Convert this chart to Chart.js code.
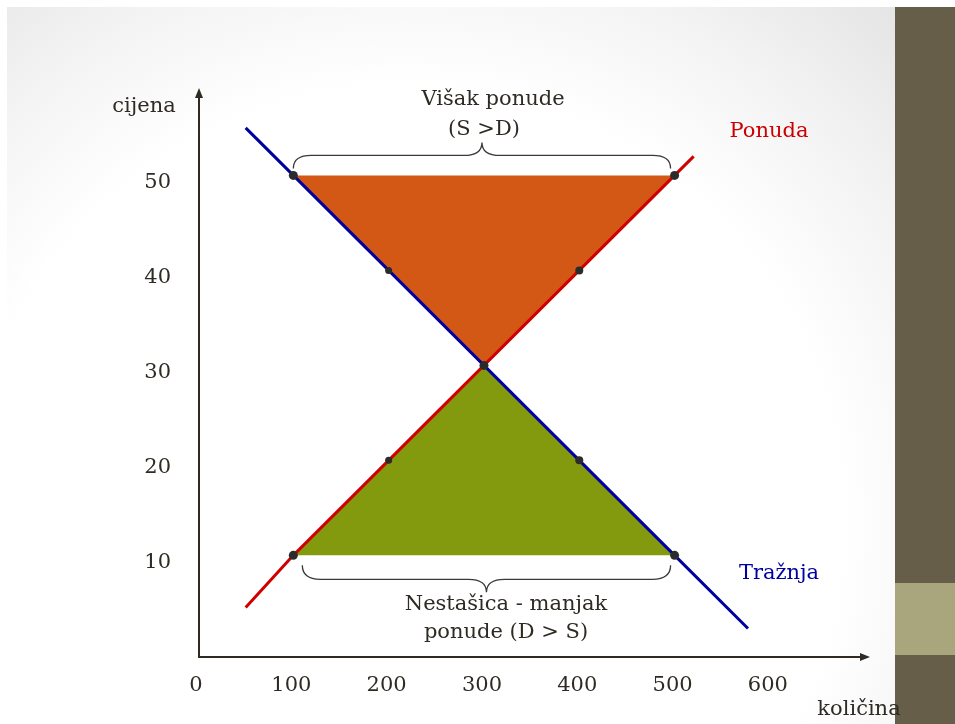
<!DOCTYPE html>
<html>
<head>
<meta charset="utf-8">
<script src="https://cdn.jsdelivr.net/npm/chart.js@4/dist/chart.umd.min.js"></script>
<style>
  html, body { margin: 0; padding: 0; background: #ffffff; width: 955px; height: 724px; overflow: hidden; }
  #slide { position: absolute; left: 7px; top: 7px; width: 948px; height: 717px;
    background: radial-gradient(circle farthest-corner at 42% 72%, #ffffff 58%, #f3f3f3 76%, #e0e0e0 100%); }
  #bar { position: absolute; left: 895px; top: 7px; width: 60px; height: 717px; background: #665e48; }
  #barLight { position: absolute; left: 895px; top: 583px; width: 60px; height: 72px; background: #a9a67e; }
  #wrap { position: absolute; left: 0; top: 0; width: 955px; height: 724px; }
</style>
</head>
<body>
<div id="slide"></div>
<div id="bar"></div>
<div id="barLight"></div>
<div id="wrap"><canvas id="c" width="955" height="724"></canvas></div>
<script>
// Demand (Tražnja) and supply (Ponuda) curves: quantity vs. price
const demandQty   = [50, 100, 200, 300, 400, 500, 577];
const demandPrice = [55, 50, 40, 30, 20, 10, 2.3];
const supplyQty   = [50, 100, 200, 300, 400, 500, 520];
const supplyPrice = [4.5, 10, 20, 30, 40, 50, 52];

// Marked points on both curves
const markerQty   = [100, 200, 300, 400, 500, 100, 200, 400, 500];
const markerPrice = [50, 40, 30, 20, 10, 10, 20, 40, 50];
const markerSize  = [4.5, 3.5, 4.5, 4, 4.5, 4.5, 3.5, 4, 4.5];

// Surplus (price 50) and shortage (price 10) triangles
const surplusQty    = [100, 500, 300, 100];
const surplusPrice  = [50, 50, 30, 50];
const shortageQty   = [100, 500, 300, 100];
const shortagePrice = [10, 10, 30, 10];

const xTicks = [0, 100, 200, 300, 400, 500, 600];
const yTicks = [10, 20, 30, 40, 50];

const pts = (xs, ys) => xs.map((x, i) => ({ x: x, y: ys[i] }));

const FONT = '"DejaVu Serif", serif';
const INK = '#2f2b24';

const decorPlugin = {
  id: 'decor',
  afterDraw(chart) {
    const ctx = chart.ctx;
    const a = chart.chartArea;
    const xs = chart.scales.x, ys = chart.scales.y;
    const px = v => xs.getPixelForValue(v);
    const py = v => ys.getPixelForValue(v);
    ctx.save();

    // axes with arrowheads
    ctx.strokeStyle = INK;
    ctx.fillStyle = INK;
    ctx.lineWidth = 2;
    ctx.beginPath();
    ctx.moveTo(a.left + 1, a.bottom);
    ctx.lineTo(a.left + 1, a.top + 6);
    ctx.moveTo(a.left, a.bottom);
    ctx.lineTo(a.right - 6, a.bottom);
    ctx.stroke();
    ctx.beginPath();
    ctx.moveTo(a.left + 1, a.top);
    ctx.lineTo(a.left - 3, a.top + 10);
    ctx.lineTo(a.left + 5, a.top + 10);
    ctx.closePath();
    ctx.fill();
    ctx.beginPath();
    ctx.moveTo(a.right, a.bottom);
    ctx.lineTo(a.right - 10, a.bottom - 4);
    ctx.lineTo(a.right - 10, a.bottom + 4);
    ctx.closePath();
    ctx.fill();

    // tick labels
    ctx.font = '21px ' + FONT;
    ctx.textAlign = 'center';
    ctx.textBaseline = 'middle';
    xTicks.forEach(v => ctx.fillText(String(v), px(v) - 2, a.bottom + 29));
    ctx.textAlign = 'right';
    yTicks.forEach(v => ctx.fillText(String(v), 171, py(v) + 7));

    // curly braces
    ctx.lineWidth = 1.3;
    ctx.strokeStyle = '#3a3a3a';
    const brace = (x1, x2, yEnd, yLine, yTip) => {
      const xm = (x1 + x2) / 2, r = 18;
      ctx.beginPath();
      ctx.moveTo(x1, yEnd);
      ctx.quadraticCurveTo(x1, yLine, x1 + r, yLine);
      ctx.lineTo(xm - r, yLine);
      ctx.quadraticCurveTo(xm, yLine, xm, yTip);
      ctx.quadraticCurveTo(xm, yLine, xm + r, yLine);
      ctx.lineTo(x2 - r, yLine);
      ctx.quadraticCurveTo(x2, yLine, x2, yEnd);
      ctx.stroke();
    };
    brace(px(100), px(500) - 4, py(50) - 7, py(50) - 20, py(50) - 33);
    brace(px(100) + 9, px(500) - 4, py(10) + 10, py(10) + 24, py(10) + 37);

    // labels
    ctx.textAlign = 'center';
    ctx.fillStyle = INK;
    ctx.font = '21px ' + FONT;
    ctx.fillText('cijena', 144, 107);
    ctx.fillText('Višak ponude', 493, 100);
    ctx.fillText('(S >D)', 484, 130);
    ctx.fillText('Nestašica - manjak', 506, 605);
    ctx.fillText('ponude (D > S)', 506, 633);
    ctx.fillText('količina', 859, 710);
    ctx.fillStyle = '#cc0000';
    ctx.fillText('Ponuda', 769, 132);
    ctx.fillStyle = '#0000a0';
    ctx.fillText('Tražnja', 779, 574);
    ctx.restore();
  }
};

new Chart(document.getElementById('c'), {
  type: 'scatter',
  data: {
    datasets: [
      { label: 'Višak ponude', data: pts(surplusQty, surplusPrice), showLine: true,
        borderWidth: 0, pointRadius: 0, backgroundColor: '#d35815', fill: 'shape', order: 4 },
      { label: 'Nestašica', data: pts(shortageQty, shortagePrice), showLine: true,
        borderWidth: 0, pointRadius: 0, backgroundColor: '#849a0e', fill: 'shape', order: 4 },
      { label: 'Tražnja', data: pts(demandQty, demandPrice), showLine: true,
        borderColor: '#0000a0', borderWidth: 3, pointRadius: 0, fill: false, order: 3 },
      { label: 'Ponuda', data: pts(supplyQty, supplyPrice), showLine: true,
        borderColor: '#d00000', borderWidth: 3, pointRadius: 0, fill: false, order: 2 },
      { label: 'točke', data: pts(markerQty, markerPrice), showLine: false,
        pointRadius: markerSize, pointBackgroundColor: '#2b2b2b', pointBorderWidth: 0, order: 1 }
    ]
  },
  options: {
    responsive: false,
    animation: false,
    events: [],
    layout: { padding: { left: 198, right: 85, top: 88, bottom: 67 } },
    plugins: { legend: { display: false }, tooltip: { enabled: false } },
    scales: {
      x: { type: 'linear', min: 0, max: 705, display: false },
      y: { type: 'linear', min: -0.7, max: 59.2, display: false }
    }
  },
  plugins: [decorPlugin]
});
</script>
</body>
</html>
